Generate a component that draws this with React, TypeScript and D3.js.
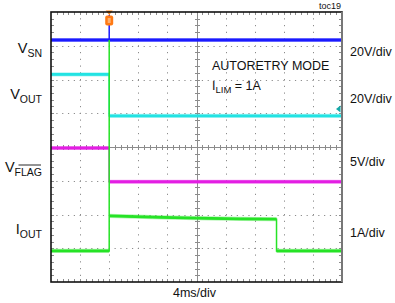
import React from "react";
import * as d3 from "d3";

// Oscilloscope: 10 horizontal divisions (4 ms/div), 8 vertical divisions
const timeDomainMs = [0, 40];
const divDomain = [-4, 4];
const hDivs = 10;
const vDivs = 8;

// V_SN (20V/div)
const vsnTime = [0, 40];
const vsnVolts = [24.4, 24.4];
// V_OUT (20V/div)
const voutTime = [0, 8, 8, 40];
const voutVolts = [24.6, 24.6, 0, 0];
// V_FLAG (5V/div)
const vflagTime = [0, 8, 8, 40];
const vflagVolts = [5, 5, 0, 0];
// I_OUT (1A/div)
const ioutTime = [0, 8, 8, 8, 14, 20, 26, 31, 31, 40];
const ioutAmps = [0, 0, 6.25, 1.04, 1.0, 0.97, 0.95, 0.94, 0, 0];

// channel settings: units per division and ground position (divisions from center)
const channels = [
  { name: "vsn", t: vsnTime, v: vsnVolts, perDiv: 20, ground: 1.95, color: "#1a1aff" },
  { name: "vout", t: voutTime, v: voutVolts, perDiv: 20, ground: 0.92, color: "#22e3e3" },
  { name: "vflag", t: vflagTime, v: vflagVolts, perDiv: 5, ground: -1.03, color: "#e31ee3" },
  { name: "iout", t: ioutTime, v: ioutAmps, perDiv: 1, ground: -3.08, color: "#26e326" },
];

const scaleLabels = ["20V/div", "20V/div", "5V/div", "1A/div"];
const timeLabel = "4ms/div";

const FONT = "'Liberation Sans', Arial, sans-serif";

export default function App() {
  const X0 = 51, X1 = 342, Y0 = 12, Y1 = 282;
  const x = d3.scaleLinear().domain(timeDomainMs).range([X0, X1]);
  const y = d3.scaleLinear().domain(divDomain).range([Y1, Y0]);
  const msPerDiv = (timeDomainMs[1] - timeDomainMs[0]) / hDivs;

  const dots: React.ReactNode[] = [];
  const gridColor = "#8c8c8c";
  for (let i = 1; i < hDivs; i++) {
    if (i === hDivs / 2) continue;
    const gx = Math.round(x(i * msPerDiv)) + 0.5;
    for (let k = 1; k < vDivs * 5; k++) {
      const gy = y(divDomain[0] + k * 0.2);
      dots.push(<rect key={`v${i}-${k}`} x={gx - 0.5} y={gy - 0.5} width={1} height={1.2} fill={gridColor} />);
    }
  }
  for (let j = 1; j < vDivs; j++) {
    if (j === vDivs / 2) continue;
    const gy = Math.round(y(divDomain[0] + j)) + 0.5;
    for (let k = 1; k < hDivs * 5; k++) {
      const gx = x(k * msPerDiv / 5);
      dots.push(<rect key={`h${j}-${k}`} x={gx - 0.5} y={gy - 0.5} width={1.2} height={1} fill={gridColor} />);
    }
  }
  const cx = Math.round(x(20)) + 0.5;
  const cy = Math.round(y(0)) + 0.5;
  const ticks: React.ReactNode[] = [];
  for (let k = 1; k < hDivs * 5; k++) {
    const gx = Math.round(x(k * msPerDiv / 5)) + 0.5;
    ticks.push(<line key={`ct${k}`} x1={gx} x2={gx} y1={cy - 2.5} y2={cy + 2.5} stroke={gridColor} />);
    ticks.push(<line key={`tt${k}`} x1={gx} x2={gx} y1={Y0} y2={Y0 + 3} stroke={gridColor} />);
    ticks.push(<line key={`bt${k}`} x1={gx} x2={gx} y1={Y1 - 3} y2={Y1} stroke={gridColor} />);
  }
  for (let k = 1; k < vDivs * 5; k++) {
    const gy = Math.round(y(divDomain[0] + k * 0.2)) + 0.5;
    ticks.push(<line key={`cv${k}`} x1={cx - 2.5} x2={cx + 2.5} y1={gy} y2={gy} stroke={gridColor} />);
    ticks.push(<line key={`lt${k}`} x1={X0} x2={X0 + 3} y1={gy} y2={gy} stroke={gridColor} />);
    ticks.push(<line key={`rt${k}`} x1={X1 - 3} x2={X1} y1={gy} y2={gy} stroke={gridColor} />);
  }

  const traces = channels.map((ch) => {
    const pts: [number, number][] = ch.t.map((t, i) => [x(t), y(ch.ground + ch.v[i] / ch.perDiv)]);
    const thin = d3.line()(pts) || "";
    const runs: string[] = [];
    for (let i = 0; i < pts.length - 1; i++) {
      if (pts[i + 1][0] !== pts[i][0]) runs.push(d3.line()([pts[i], pts[i + 1]]) || "");
    }
    return (
      <g key={ch.name}>
        <path d={thin} fill="none" stroke={ch.color} strokeWidth={1.5} />
        {runs.map((d, i) => (
          <g key={i}>
            <path d={d} fill="none" stroke={ch.color} strokeWidth={4.2} strokeOpacity={0.35} />
            <path d={d} fill="none" stroke={ch.color} strokeWidth={2.8} />
          </g>
        ))}
      </g>
    );
  });

  const trigX = x(8);
  const vsnY = y(channels[0].ground + vsnVolts[0] / channels[0].perDiv);
  const voutLowY = y(channels[1].ground);

  const leftLabel = (main: string, sub: string, yb: number) => (
    <text x={42} y={yb} textAnchor="end" fontFamily={FONT} fontSize={14.5} fill="#111">
      {main}
      <tspan fontSize={10.5} dy={4}>{sub}</tspan>
    </text>
  );

  return (
    <svg width={395} height={303} style={{ position: "absolute", left: 0, top: 0, background: "#fff" }}>
      <rect x={0} y={0} width={395} height={303} fill="#fff" />
      {dots}
      <line x1={X0} x2={X1} y1={cy} y2={cy} stroke={gridColor} strokeWidth={1} />
      <line x1={cx} x2={cx} y1={Y0} y2={Y1} stroke={gridColor} strokeWidth={1} />
      {ticks}
      {traces}
      {/* trigger marker */}
      <line x1={trigX} x2={trigX} y1={15} y2={vsnY} stroke="#1a1aff" strokeWidth={1.5} />
      <path d={`M${trigX - 3.5},${Y0 - 1.5}L${trigX + 3.5},${Y0 - 1.5}L${trigX},${Y0 + 3}Z`} fill="#ff8a1e" />
      <rect x={trigX - 4} y={15.5} width={8} height={10} rx={2} fill="#ff7a14" />
      <rect x={trigX - 1.5} y={18} width={3} height={5} fill="#ffb070" />
      {/* channel ground marker */}
      <path d={`M${X1 - 6},${voutLowY - 7}L${X1 - 1.5},${voutLowY - 10.5}L${X1 - 1.5},${voutLowY - 3.5}Z`} fill="#14a8a8" />
      {/* frame */}
      <rect x={X0} y={Y0} width={X1 - X0} height={Y1 - Y0} fill="none" stroke="#111" strokeWidth={1.6} />
      <line x1={X1} x2={X1} y1={Y0} y2={Y1} stroke="#777" strokeWidth={2} />

      {leftLabel("V", "SN", 53)}
      {leftLabel("V", "OUT", 99)}
      <text x={42} y={172} textAnchor="end" fontFamily={FONT} fontSize={14.5} fill="#111">
        V<tspan fontSize={10.5} dy={4}>FLAG</tspan>
      </text>
      <line x1={18.5} x2={41} y1={165} y2={165} stroke="#111" strokeWidth={0.9} />
      {leftLabel("I", "OUT", 234)}

      {scaleLabels.map((s, i) => (
        <text key={i} x={350} y={[56, 103, 166, 237][i]} fontFamily={FONT} fontSize={12.5} fill="#111">{s}</text>
      ))}

      <text x={212} y={70} fontFamily={FONT} fontSize={12.5} fill="#111">AUTORETRY MODE</text>
      <text x={212} y={90} fontFamily={FONT} fontSize={12.5} fill="#111">
        I<tspan fontSize={9.5} dy={3}>LIM</tspan><tspan dy={-3}> = 1A</tspan>
      </text>
      <text x={341} y={9} textAnchor="end" fontFamily={FONT} fontSize={9} fill="#111">toc19</text>
      <text x={173} y={297} fontFamily={FONT} fontSize={12.5} fill="#111">{timeLabel}</text>
    </svg>
  );
}
